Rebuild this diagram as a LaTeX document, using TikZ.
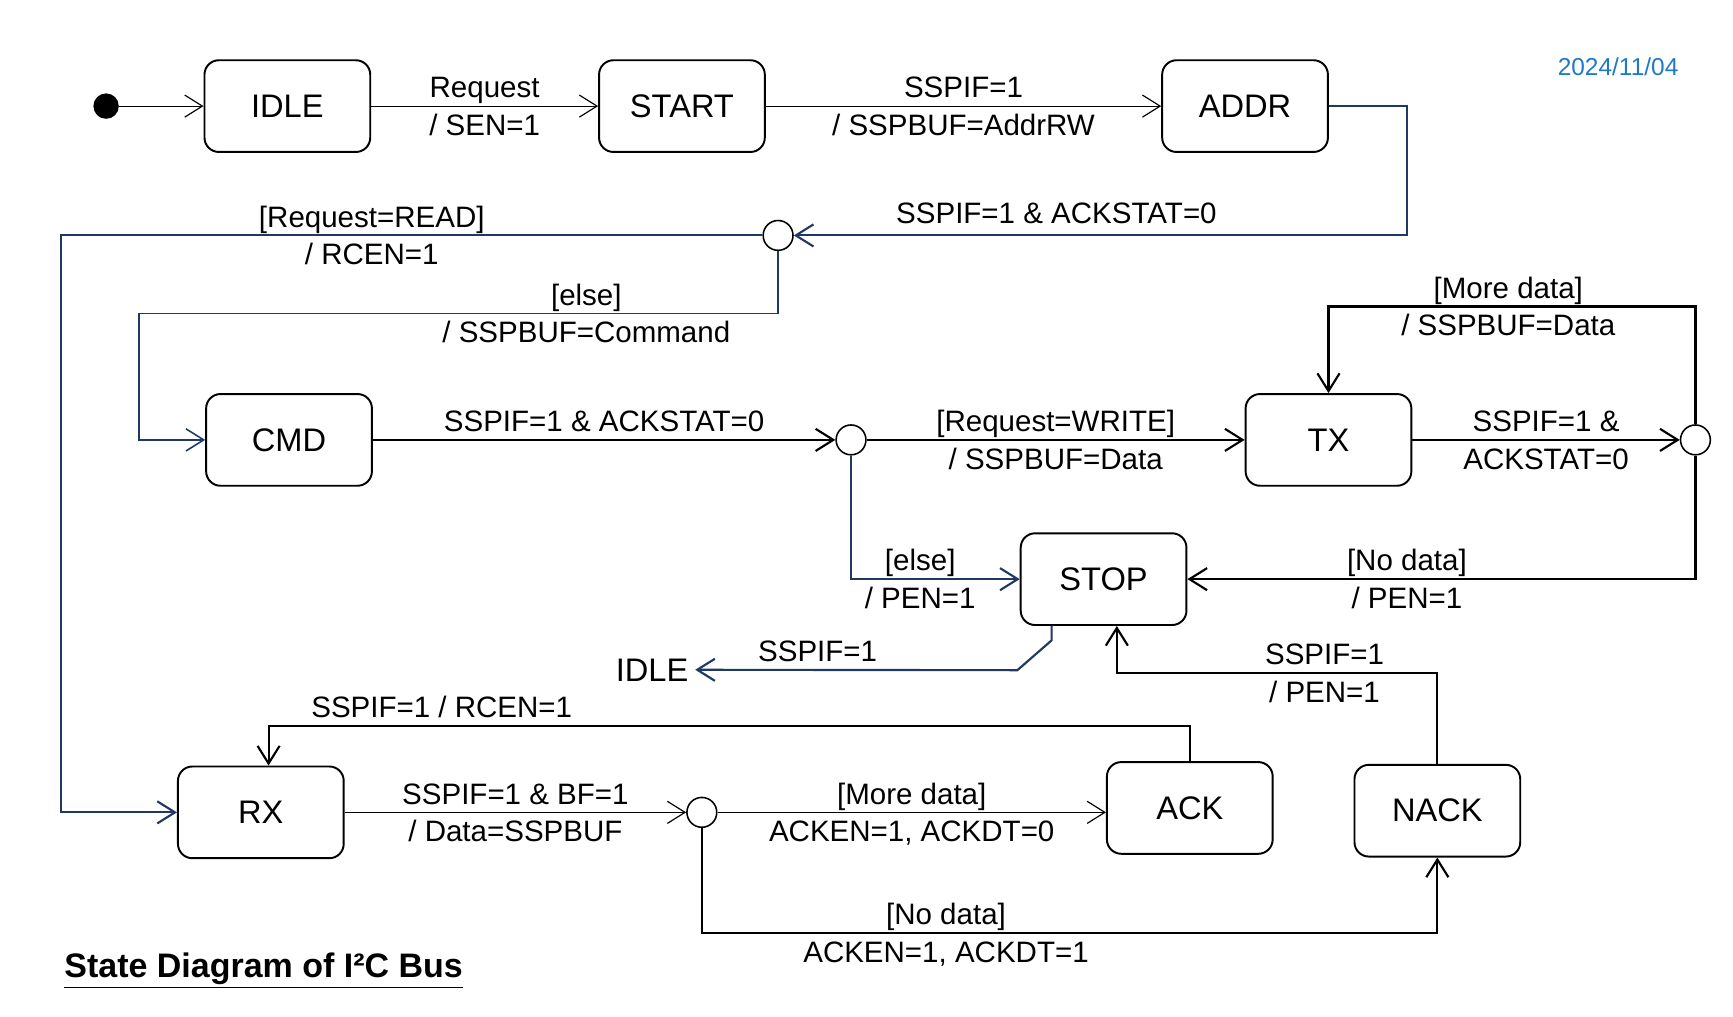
\documentclass[tikz,border=0pt]{standalone}
\usepackage{fontspec}
\setmainfont{Liberation Sans}
\usetikzlibrary{arrows.meta,calc}

\definecolor{navy}{HTML}{1F3864}
\definecolor{dateblue}{HTML}{1E7AC8}
\newcommand\labfont{\fontsize{15.2}{18}\selectfont}
\newcommand\statefont{\fontsize{16.8}{20}\selectfont}

\tikzset{
  statebox/.style={draw, rounded corners=0.26cm, minimum width=3cm, minimum height=1.66cm, line width=1pt, font=\statefont},
  choice/.style={draw, circle, minimum size=0.54cm, inner sep=0pt, line width=0.8pt},
  initdot/.style={fill, circle, minimum size=0.46cm, inner sep=0pt},
  trans/.style={->, line width=0.6pt},
  transb/.style={->, line width=1.1pt},
  navytrans/.style={->, draw=navy, line width=1.1pt},
  labup/.style={font=\labfont, inner sep=0pt, anchor=base, yshift=4.3pt},
  labdn/.style={font=\labfont, inner sep=0pt, anchor=base, yshift=-15pt},
}

\begin{document}
\begin{tikzpicture}[x=0.02cm, y=-0.02cm, >={Straight Barb[length=3.2mm,width=4mm]}]
\useasboundingbox (0,0) rectangle (1568,920);

% states
\node[statebox] (IDLE) at (260,96) {IDLE};
\node[statebox] (START) at (617,96) {START};
\node[statebox] (ADDR) at (1126.5,96) {ADDR};
\node[statebox] (CMD) at (261.5,398) {CMD};
\node[statebox] (TX) at (1202,398) {TX};
\node[statebox] (STOP) at (998.5,524) {STOP};
\node[statebox] (RX) at (236,735) {RX};
\node[statebox] (ACK) at (1076.5,731) {ACK};
\node[statebox] (NACK) at (1300.5,733.5) {NACK};

% pseudo states
\node[initdot] (init) at (96,96) {};
\node[choice] (C1) at (704,213) {};
\node[choice] (C2) at (770,398) {};
\node[choice] (C3) at (1534,398) {};
\node[choice] (C4) at (635,735) {};
\node[font=\statefont] (IDLEret) at (590,606) {IDLE};

\node[font=\fontsize{12.6}{15}\selectfont, text=dateblue] (date) at (1464,60) {2024/11/04};
\node[font=\fontsize{17.5}{20}\selectfont\bfseries] (title) at (238.5,878) {\underline{State Diagram of I²C Bus}};

% transitions
\draw[trans] (init) -- (IDLE);
\draw[trans] (IDLE) -- node[labup]{Request} node[labdn]{/ SEN=1} (START);
\draw[trans] (START) -- node[labup]{SSPIF=1} node[labdn]{/ SSPBUF=AddrRW} (ADDR);
\draw[navytrans] (ADDR.east) -- ++(71,0) |- node[labup,pos=0.786,yshift=2pt]{SSPIF=1 \& ACKSTAT=0} (C1.east);
\draw[navytrans] (C1.west) -- node[labup,pos=0.557]{[Request=READ]} node[labdn,pos=0.557]{/ RCEN=1} ++(-634.5,0) |- (RX.west);
\draw[navytrans, line width=0.8pt] (C1.south) -- ++(0,56.5) -| node[labup,pos=0.15]{[else]} node[labdn,pos=0.15]{/ SSPBUF=Command} ($(CMD.west)+(-60,0)$) -- (CMD.west);
\draw[transb] (CMD) -- node[labup]{SSPIF=1 \& ACKSTAT=0} (C2);
\draw[transb] (C2) -- node[labup]{[Request=WRITE]} node[labdn]{/ SSPBUF=Data} (TX);
\draw[navytrans] (C2.south) |- node[labup,pos=0.705]{[else]} node[labdn,pos=0.705]{/ PEN=1} (STOP.west);
\draw[transb] (TX) -- node[labup]{SSPIF=1 \&} node[labdn]{ACKSTAT=0} (C3);
\draw[transb] (C3.north) -- ++(0,-106.5) -| node[labup,pos=0.255]{[More data]} node[labdn,pos=0.255]{/ SSPBUF=Data} (TX.north);
\draw[transb] (C3.south) |- node[labup,pos=0.784]{[No data]} node[labdn,pos=0.784]{/ PEN=1} (STOP.east);
\draw[navytrans] ($(STOP.south)+(-47,0)$) -- ++(0,13) -- ++(-31,27) -- node[labup,pos=0.62]{SSPIF=1} (IDLEret.east);
\draw[transb] (NACK.north) -- ++(0,-82) -| node[labup,pos=0.176]{SSPIF=1} node[labdn,pos=0.176]{/ PEN=1} ($(STOP.south)+(12,0)$);
\draw[transb] (ACK.north) -- ++(0,-32) -| node[labup,pos=0.406]{SSPIF=1 / RCEN=1} ($(RX.north)+(7,0)$);
\draw[trans] (RX) -- node[labup]{SSPIF=1 \& BF=1} node[labdn]{/ Data=SSPBUF} (C4);
\draw[trans] (C4) -- node[labup]{[More data]} node[labdn]{ACKEN=1, ACKDT=0} (C4 -| ACK.west);
\draw[transb] (C4.south) -- ++(0,95) -| node[labup,pos=0.166]{[No data]} node[labdn,pos=0.166]{ACKEN=1, ACKDT=1} (NACK.south);
\end{tikzpicture}
\end{document}
